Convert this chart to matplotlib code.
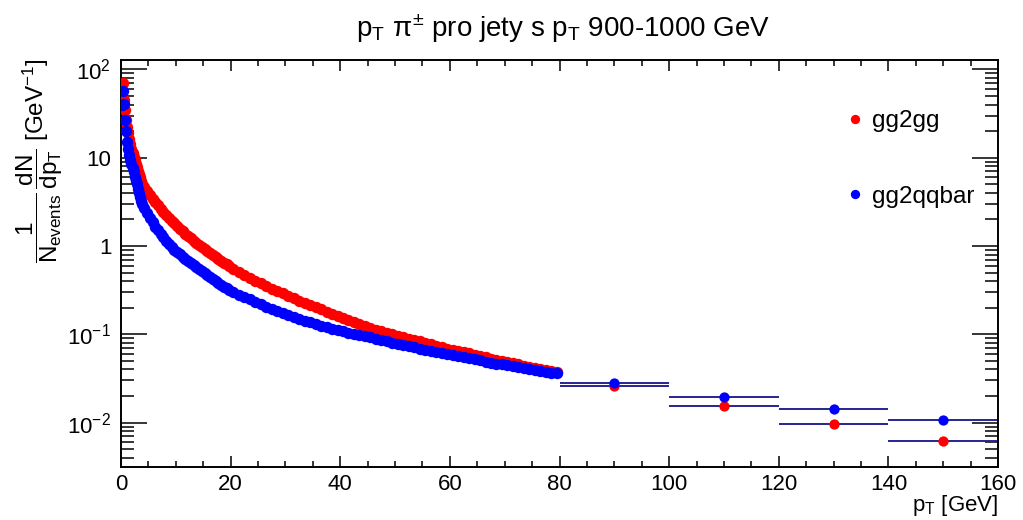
import numpy as np
import matplotlib
matplotlib.use('Agg')
import matplotlib.pyplot as plt
from matplotlib.lines import Line2D
from matplotlib.ticker import MultipleLocator, FixedLocator, NullFormatter, LogLocator

# ==============================================================================
# STYLE
# ==============================================================================
plt.rcParams['font.family'] = ['Liberation Sans', 'DejaVu Sans']
plt.rcParams['mathtext.fontset'] = 'custom'
plt.rcParams['mathtext.rm'] = 'Liberation Sans'
plt.rcParams['mathtext.it'] = 'Liberation Sans'
plt.rcParams['mathtext.bf'] = 'Liberation Sans:bold'
plt.rcParams['mathtext.sf'] = 'Liberation Sans'

RED = '#ff0000'
BLUE = '#0000ff'
BAR = '#25258f'

# ==============================================================================
# DATA
# ==============================================================================
# fine binning below 80 GeV: 0.2 GeV up to 4, 0.5 GeV up to 20, 1 GeV up to 80
fine_x = np.concatenate([np.arange(0.1, 4.0, 0.2),
                         np.arange(4.25, 20.0, 0.5),
                         np.arange(20.5, 80.0, 1.0)])

gg2gg_fine = [
    46, 70, 45, 35, 27, 22, 19, 16.3, 14.3, 12.6,
    11.3, 10.2, 9.3, 8.5, 7.8, 7.1, 6.5, 6.0, 5.5, 5.1,
    4.7, 4.2, 3.8, 3.45, 3.15, 2.88, 2.64, 2.43, 2.25, 2.08,
    1.93, 1.80, 1.68, 1.57, 1.47, 1.38, 1.30, 1.22, 1.15, 1.09,
    1.03, 0.97, 0.92, 0.87, 0.83, 0.79, 0.75, 0.71, 0.68, 0.65,
    0.62, 0.59,
    0.55, 0.51, 0.47, 0.435, 0.405, 0.378, 0.353, 0.330, 0.309, 0.290,
    0.272, 0.256, 0.241, 0.227, 0.214, 0.202, 0.191, 0.180, 0.170, 0.161,
    0.152, 0.144, 0.137, 0.130, 0.124, 0.118, 0.113, 0.108, 0.104, 0.100,
    0.096, 0.092, 0.089, 0.086, 0.083, 0.080, 0.077, 0.074, 0.072, 0.069,
    0.067, 0.065, 0.063, 0.061, 0.059, 0.057, 0.055, 0.053, 0.0515, 0.050,
    0.0485, 0.047, 0.0456, 0.0443, 0.043, 0.0418, 0.0406, 0.0395, 0.0384, 0.0374,
]

gg2qqbar_fine = [
    40, 57, 41, 27, 20, 15, 12.5, 10.8, 9.5, 8.5,
    7.6, 6.8, 6.1, 5.5, 5.0, 4.4, 3.95, 3.55, 3.25, 3.0,
    2.7, 2.35, 2.1, 1.85, 1.65, 1.5, 1.37, 1.25, 1.15, 1.05,
    0.97, 0.91, 0.86, 0.81, 0.76, 0.72, 0.68, 0.645, 0.61, 0.58,
    0.55, 0.52, 0.495, 0.47, 0.44, 0.42, 0.40, 0.38, 0.362, 0.346,
    0.331, 0.317,
    0.300, 0.282, 0.265, 0.249, 0.235, 0.219, 0.206, 0.194, 0.183, 0.173,
    0.164, 0.156, 0.149, 0.142, 0.136, 0.130, 0.125, 0.120, 0.116, 0.112,
    0.108, 0.104, 0.101, 0.098, 0.095, 0.092, 0.089, 0.086, 0.083, 0.080,
    0.078, 0.075, 0.073, 0.071, 0.069, 0.067, 0.065, 0.063, 0.061, 0.0595,
    0.058, 0.0565, 0.055, 0.0535, 0.052, 0.0505, 0.049, 0.0478, 0.0466, 0.0455,
    0.0444, 0.0433, 0.0423, 0.0413, 0.0403, 0.0394, 0.0385, 0.0376, 0.0368, 0.0360,
]

# wide bins 80-160 GeV
wide_x = [90, 110, 130, 150]
wide_half = [10, 10, 10, 10]
gg2gg_wide = [0.0262, 0.0156, 0.0097, 0.0062]
gg2qqbar_wide = [0.0282, 0.0197, 0.0143, 0.0108]

y_ticks = [1e-2, 1e-1, 1, 10, 100]
y_ticklabels = [r'$10^{-2}$', r'$10^{-1}$', '1', '10', r'$10^{2}$']

# ==============================================================================
# PLOT
# ==============================================================================
fig = plt.figure(figsize=(10.23, 5.2), dpi=100)
ax = fig.add_axes([121 / 1023, 53 / 520, 877 / 1023, 407 / 520])

ms_fine = 8.2
ms_wide = 7.4
ax.errorbar(wide_x, gg2gg_wide, xerr=wide_half, fmt='none', ecolor=BAR,
            elinewidth=1.4, capsize=0, zorder=2)
ax.errorbar(wide_x, gg2qqbar_wide, xerr=wide_half, fmt='none', ecolor=BAR,
            elinewidth=1.4, capsize=0, zorder=2)

ax.plot(fine_x, gg2gg_fine, 'o', color=RED, ms=ms_fine, mew=0, zorder=3)
ax.plot(wide_x, gg2gg_wide, 'o', color=RED, ms=ms_wide, mew=0, zorder=3)
ax.plot(fine_x, gg2qqbar_fine, 'o', color=BLUE, ms=ms_fine, mew=0, zorder=4)
ax.plot(wide_x, gg2qqbar_wide, 'o', color=BLUE, ms=ms_wide, mew=0, zorder=4)

ax.set_yscale('log')
ax.set_xlim(0, 160)
ax.set_ylim(0.00314, 127.8)

ax.xaxis.set_major_locator(MultipleLocator(20))
ax.xaxis.set_minor_locator(MultipleLocator(5))
ax.yaxis.set_major_locator(FixedLocator(y_ticks))
ax.set_yticklabels(y_ticklabels)
ax.yaxis.set_minor_locator(LogLocator(base=10, subs=np.arange(2, 10)))
ax.yaxis.set_minor_formatter(NullFormatter())

for s in ax.spines.values():
    s.set_linewidth(1.4)
ax.tick_params(axis='both', which='both', direction='in', top=True, right=True,
               width=1.1, labelsize=16)
ax.tick_params(axis='x', which='major', length=8, pad=5)
ax.tick_params(axis='x', which='minor', length=4.3)
ax.tick_params(axis='y', which='major', length=18.5, pad=7)
ax.tick_params(axis='y', which='minor', length=9.4)

# legend
handles = [
    Line2D([], [], ls='none', marker='o', color=RED, ms=6.7, mew=0, label='gg2gg'),
    Line2D([], [], ls='none', marker='o', color=BLUE, ms=6.7, mew=0, label='gg2qqbar'),
]
ax.legend(handles=handles, loc='upper left', bbox_to_anchor=(0.823, 0.877),
          frameon=False, fontsize=17.5, handlelength=1.0, handletextpad=0.2,
          borderpad=0, borderaxespad=0, labelspacing=2.2)

# titles
fig.text(563 / 1023, 1 - 29 / 520, r'p$_{T}$ $\pi^{\pm}$ pro jety s p$_{T}$ 900-1000 GeV',
         ha='center', va='center', fontsize=20)
fig.text(998 / 1023, 1 - 511 / 520, r'p$_{T}$ [GeV]', ha='right', va='baseline',
         fontsize=16)
fig.text(40 / 1023, 1 - 58 / 520,
         r'$\dfrac{1}{N_{\mathrm{events}}}\,\dfrac{dN}{dp_{T}}$ [GeV$^{-1}$]',
         rotation=90, ha='center', va='top', fontsize=17.5)

plt.savefig('out.png', dpi=100)
plt.close()
